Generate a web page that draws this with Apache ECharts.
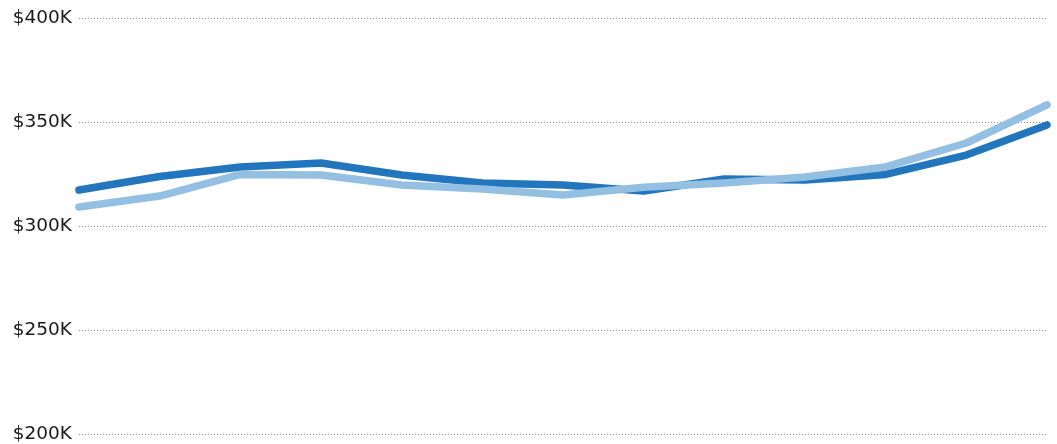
<!DOCTYPE html>
<html>
<head>
<meta charset="utf-8">
<script src="https://cdn.jsdelivr.net/npm/echarts@6/dist/echarts.min.js"></script>
<style>
html,body{margin:0;padding:0;background:#fff;}
#c{width:1057px;height:444px;}
</style>
</head>
<body>
<div id="c"></div>
<script>
const categories = ['P1','P2','P3','P4','P5','P6','P7','P8','P9','P10','P11','P12','P13'];
const seriesDark = [317.3, 323.8, 328.4, 330.3, 324.5, 320.7, 319.7, 316.8, 322.6, 322.1, 324.8, 334.1, 348.6];
const seriesLight = [309.1, 314.4, 324.8, 324.5, 319.7, 317.8, 314.9, 318.6, 320.7, 323.6, 328.4, 339.9, 358.2];
const yTicks = [200, 250, 300, 350, 400];

const chart = echarts.init(document.getElementById('c'), null, {renderer: 'canvas'});
chart.setOption({
  animation: false,
  backgroundColor: '#ffffff',
  grid: {left: 79, right: 10, top: 18, bottom: 10, containLabel: false},
  xAxis: {
    type: 'category',
    data: categories,
    boundaryGap: false,
    show: false
  },
  yAxis: {
    type: 'value',
    min: yTicks[0],
    max: yTicks[yTicks.length - 1],
    interval: 50,
    axisLine: {show: false},
    axisTick: {show: false},
    splitLine: {show: true, lineStyle: {color: '#8c8c8c', type: [1, 2], width: 1}},
    axisLabel: {
      margin: 7,
      color: '#1a1a1a',
      fontFamily: 'DejaVu Sans',
      fontSize: 18.5,
      padding: [5, 0, 0, 0],
      formatter: v => '$' + v + 'K'
    }
  },
  series: [
    {
      type: 'line',
      data: seriesDark,
      symbol: 'none',
      lineStyle: {color: '#2176be', width: 7.5, cap: 'round', join: 'round'},
      z: 2
    },
    {
      type: 'line',
      data: seriesLight,
      symbol: 'none',
      lineStyle: {color: '#92bfe2', width: 7.5, cap: 'round', join: 'round'},
      z: 3
    }
  ]
});
</script>
</body>
</html>
